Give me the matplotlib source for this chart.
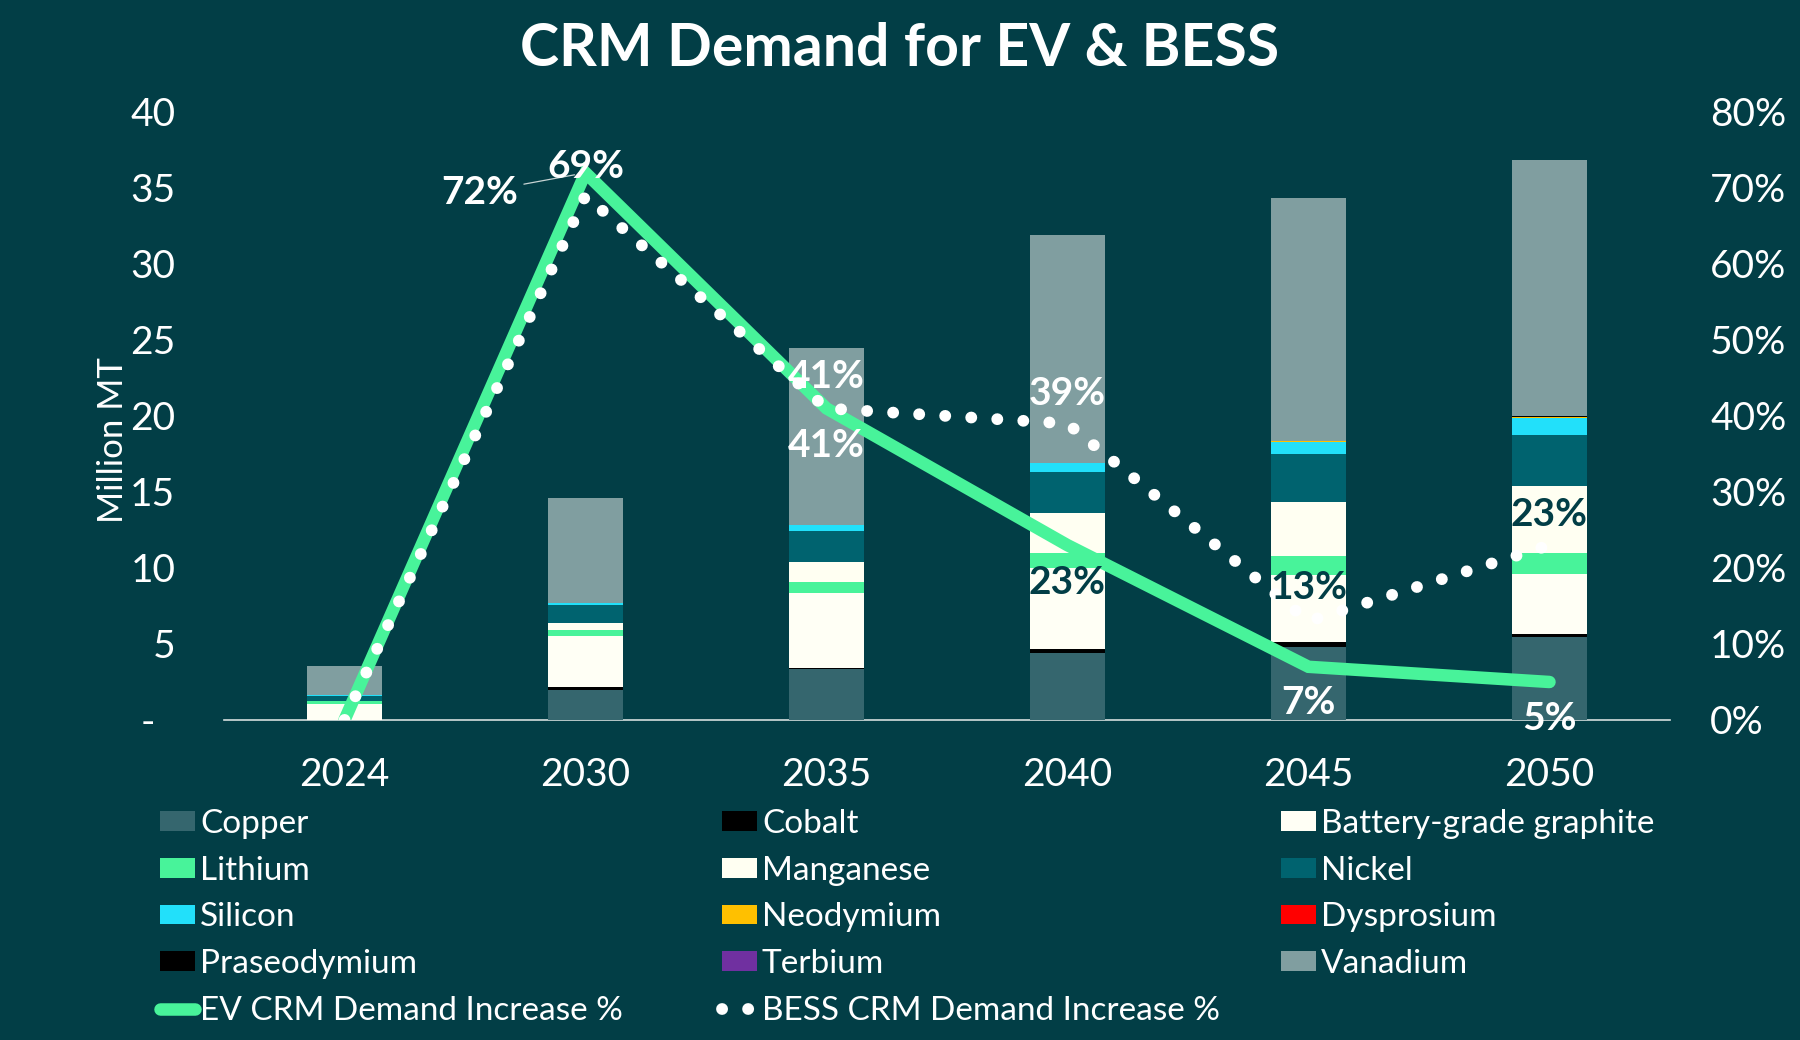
import numpy as np
import matplotlib
matplotlib.use("Agg")
import matplotlib.pyplot as plt

# data (Million MT, stacked bottom -> top)
years = ["2024", "2030", "2035", "2040", "2045", "2050"]
copper = [0.00, 1.97, 3.33, 4.43, 4.82, 5.45]
cobalt = [0.02, 0.22, 0.10, 0.22, 0.29, 0.19]
graphite = [1.05, 3.36, 4.94, 5.32, 4.43, 3.97]
lithium = [0.18, 0.39, 0.71, 1.00, 1.22, 1.39]
manganese = [0.03, 0.44, 1.33, 2.66, 3.55, 4.38]
nickel = [0.33, 1.20, 2.04, 2.66, 3.16, 3.40]
silicon = [0.02, 0.11, 0.35, 0.60, 0.83, 1.12]
neodymium = [0.00, 0.01, 0.04, 0.01, 0.05, 0.01]
dysprosium = [0.00, 0.00, 0.00, 0.00, 0.00, 0.05]
praseodymium = [0.00, 0.00, 0.01, 0.01, 0.01, 0.01]
terbium = [0.00, 0.00, 0.00, 0.00, 0.00, 0.00]
vanadium = [1.90, 6.90, 11.60, 15.00, 16.00, 16.86]

# demand increase % (right axis)
ev_pct = [0, 72, 41, 23, 7, 5]
bess_pct = [0, 69, 41, 39, 13, 23]

BG = "#023E46"
GREEN = "#48F39A"
DARK = "#023E46"

names = ["Copper", "Cobalt", "Battery-grade graphite", "Lithium", "Manganese",
         "Nickel", "Silicon", "Neodymium", "Dysprosium", "Praseodymium",
         "Terbium", "Vanadium"]
series = [copper, cobalt, graphite, lithium, manganese, nickel, silicon,
          neodymium, dysprosium, praseodymium, terbium, vanadium]
colors = ["#35666E", "#000000", "#FFFFF5", GREEN, "#FFFFF2", "#00636F",
          "#22E0FA", "#FFC000", "#FF0000", "#000000", "#7030A0", "#809EA0"]

plt.rcParams["font.family"] = ["Lato", "DejaVu Sans"]

fig = plt.figure(figsize=(18, 10.4), dpi=100, facecolor=BG)
ax = fig.add_axes([224 / 1800, 1 - 720 / 1040, 1446 / 1800, 608 / 1040])
ax.set_facecolor(BG)

x = np.arange(len(years))
bottom = np.zeros(len(years))
handles = {}
for name, vals, col in zip(names, series, colors):
    handles[name] = ax.bar(x, vals, 0.315, bottom=bottom, color=col,
                           linewidth=0, label=name, zorder=2)
    bottom += np.array(vals)

ax.set_xlim(-0.5, 5.5)
ax.set_ylim(0, 40)
ax.set_xticks(x)
ax.set_xticklabels(years)
yt = list(range(0, 41, 5))
ax.set_yticks(yt)
ax.set_yticklabels(["-  " if v == 0 else str(v) for v in yt])
ax.tick_params(axis="y", length=0, pad=35, labelsize=28, colors="white")
ax.tick_params(axis="x", length=0, pad=27, labelsize=28, colors="white")
for s in ["top", "left", "right"]:
    ax.spines[s].set_visible(False)
ax.spines["bottom"].set_color("#D5DEDE")
ax.spines["bottom"].set_linewidth(1.2)
ax.spines["bottom"].set_zorder(1)
ax.set_ylabel("Million MT", fontsize=25, color="white")
ax.yaxis.set_label_coords(-0.066, 0.46)

ax2 = ax.twinx()
ax2.set_ylim(0, 80)
pt = list(range(0, 81, 10))
ax2.set_yticks(pt)
ax2.set_yticklabels([f"{v}%" for v in pt])
ax2.tick_params(axis="y", length=0, pad=29, labelsize=28, colors="white")
for s in ax2.spines.values():
    s.set_visible(False)

ev_line, = ax2.plot(x, ev_pct, color=GREEN, lw=9, solid_capstyle="round",
                    solid_joinstyle="miter", zorder=3,
                    label="EV CRM Demand Increase %")
bess_line, = ax2.plot(x, bess_pct, color="white", lw=8.5,
                      linestyle=(0, (0.01, 2.2)), dash_capstyle="round",
                      zorder=4, label="BESS CRM Demand Increase %")

# data labels: (offset in points, colour) per point, 2024 has none
ev_off = [None, (-76, -14), (0, -27), (0, -27), (0, -26), (0, -26)]
ev_col = [None, "white", "white", DARK, "white", "white"]
bess_off = [None, (0, 21), (0, 23), (0, 22), (0, 24), (0, 22)]
bess_col = [None, "white", "white", "white", DARK, DARK]

for vals, offs, cols in [(ev_pct, ev_off, ev_col), (bess_pct, bess_off, bess_col)]:
    for i, v in enumerate(vals):
        if offs[i] is None:
            continue
        kw = {}
        if offs[i][0] != 0:
            kw["arrowprops"] = dict(arrowstyle="-", color="#C8D4D4", lw=0.9,
                                    shrinkA=2, shrinkB=8)
        ax2.annotate(f"{v}%", (x[i], v), xytext=offs[i],
                     textcoords="offset points", ha="center", va="center",
                     fontsize=28, fontweight="bold", color=cols[i], zorder=5,
                     **kw)

fig.text(0.5, 1 - 49 / 1040, "CRM Demand for EV & BESS", ha="center",
         va="center", fontsize=42.5, fontweight="bold", color="white")

# legend in three columns, filled row by row
leg_cols = [
    ["Copper", "Lithium", "Silicon", "Praseodymium", ev_line],
    ["Cobalt", "Manganese", "Neodymium", "Terbium", bess_line],
    ["Battery-grade graphite", "Nickel", "Dysprosium", "Vanadium"],
]
col_x = [160 / 1800, 722 / 1800, 1281 / 1800]
for cx, items in zip(col_x, leg_cols):
    hs = [handles[it] if isinstance(it, str) else it for it in items]
    ls = [it if isinstance(it, str) else it.get_label() for it in items]
    fig.legend(hs, ls, loc="upper left", bbox_to_anchor=(cx, 1 - 809 / 1040),
               frameon=False, fontsize=24, labelcolor="white",
               handlelength=1.05, handleheight=0.54, handletextpad=0.15,
               labelspacing=0.5, borderpad=0, borderaxespad=0)

fig.savefig("out.png", dpi=100, facecolor=BG)
